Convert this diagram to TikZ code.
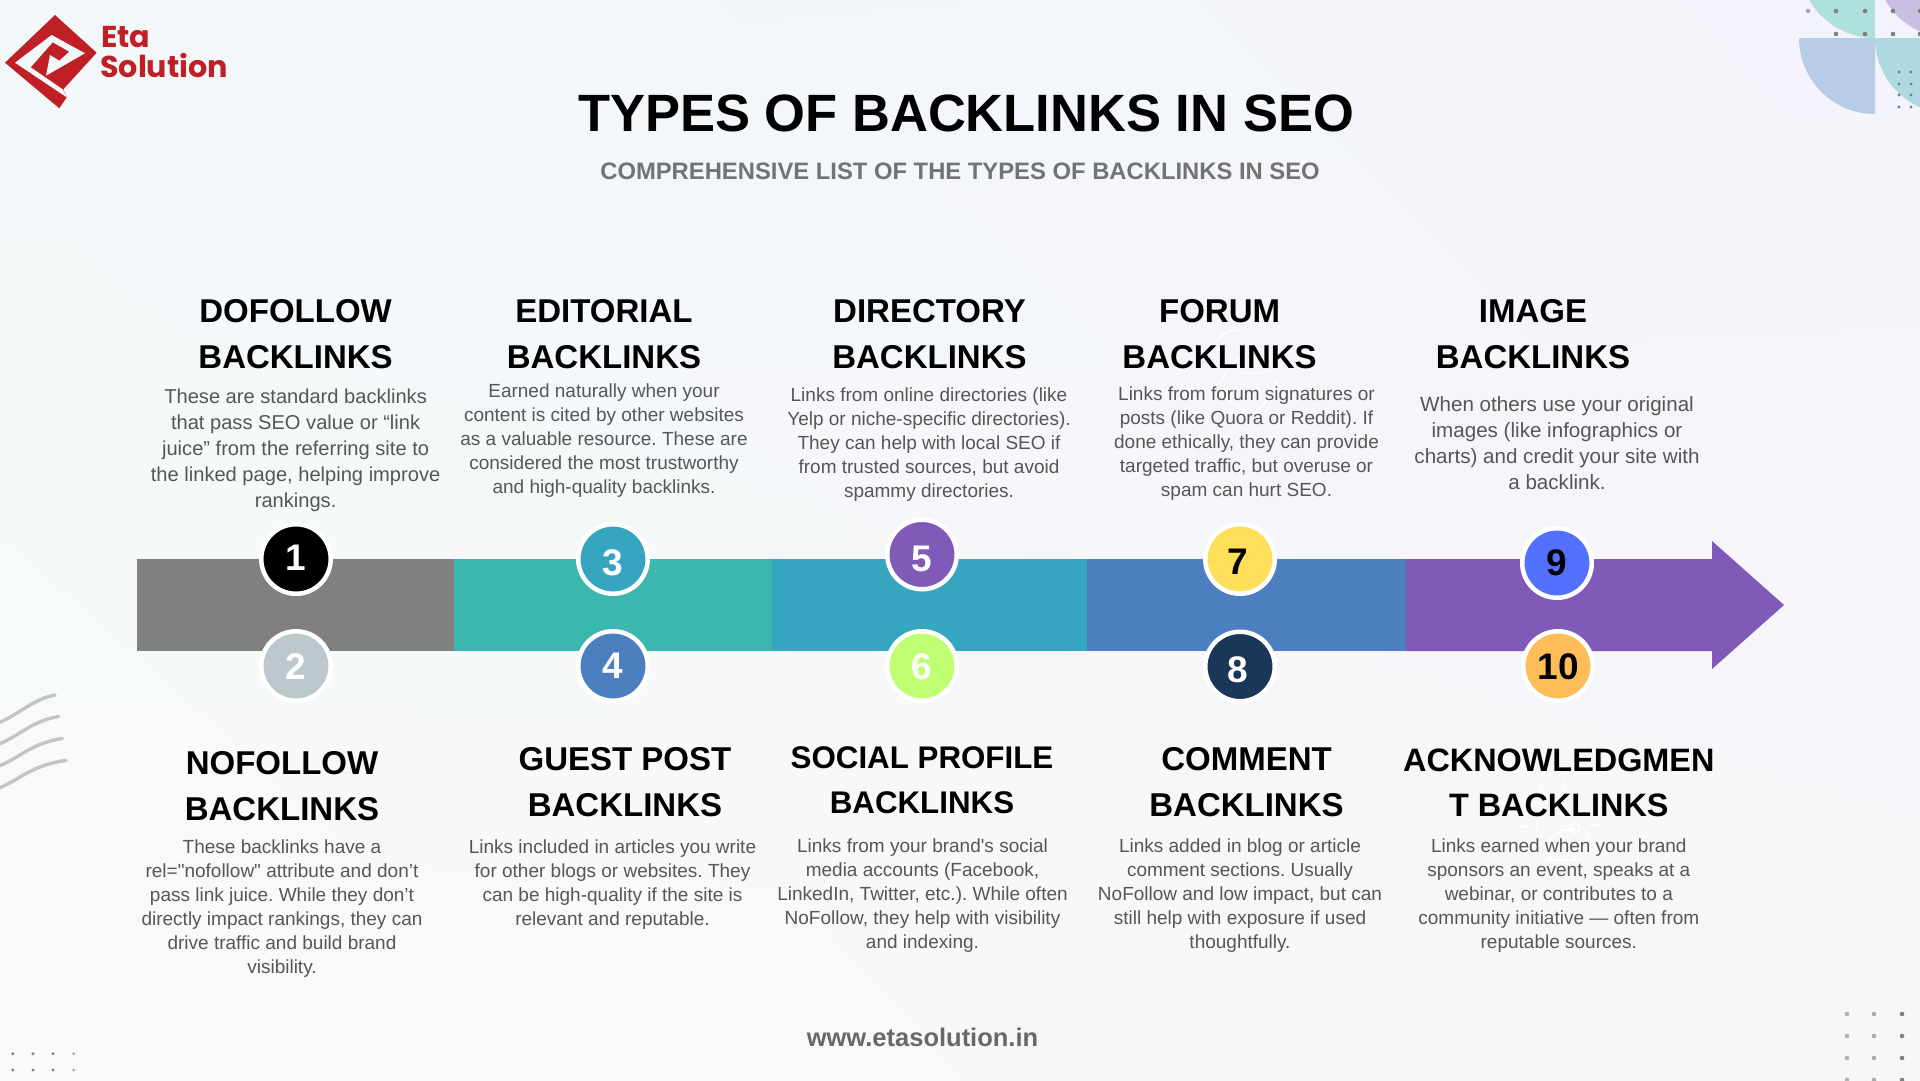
\documentclass[tikz,border=0pt]{standalone}
\usepackage{fontspec}
\usetikzlibrary{shadings}
\setmainfont{Liberation Sans}[Ligatures=TeXOff]
\newfontfamily\logofont{Poppins}
\AtBeginDocument{\frenchspacing}
\definecolor{logored}{HTML}{BF2026}
\definecolor{logobg}{HTML}{F2F8FA}
\definecolor{bodygray}{HTML}{565656}
\definecolor{subgray}{HTML}{737373}
\definecolor{barA}{HTML}{808080}
\definecolor{barB}{HTML}{3CB7B0}
\definecolor{barC}{HTML}{36A5C0}
\definecolor{barD}{HTML}{4C7FC0}
\definecolor{barE}{HTML}{7F5AB8}
\definecolor{discB}{HTML}{BCC8CC}
\definecolor{discF}{HTML}{C1FF72}
\definecolor{discG}{HTML}{FFDE59}
\definecolor{discH}{HTML}{1A3658}
\definecolor{discI}{HTML}{5271FF}
\definecolor{discJ}{HTML}{FFBD59}
\definecolor{quadA}{HTML}{AEE0DC}
\definecolor{quadB}{HTML}{C9BFE3}
\definecolor{quadC}{HTML}{B7CCE6}
\definecolor{quadD}{HTML}{AED9E3}
\definecolor{wavegray}{HTML}{C4C4C4}
\definecolor{dotgray}{HTML}{808080}
\definecolor{dotlight}{HTML}{ABABAB}
\definecolor{bgTR}{HTML}{F3F4FB}
\definecolor{bgBL}{HTML}{F9FBF8}
\definecolor{bgBR}{HTML}{F8F6F9}
\tikzset{
  heading/.style={align=center,inner sep=0pt,text=black,font=\fontsize{33}{46}\selectfont\bfseries},
  headingsmall/.style={align=center,inner sep=0pt,text=black,font=\fontsize{31.3}{44.6}\selectfont\bfseries},
  headingmid/.style={align=center,inner sep=0pt,text=black,font=\fontsize{32.4}{45}\selectfont\bfseries},
  bodyblock/.style={align=center,inner sep=0pt,text=bodygray,font=\fontsize{19}{24}\selectfont},
  bodylarge/.style={align=center,inner sep=0pt,text=bodygray,font=\fontsize{20.1}{26}\selectfont},
  bodywide/.style={align=center,inner sep=0pt,text=bodygray,font=\fontsize{20.6}{26}\selectfont},
  numdisc/.style={circle,inner sep=0pt,minimum size=69.5pt,line width=4.5pt,draw=white},
  numlabel/.style={inner sep=0pt,font=\fontsize{37}{37}\selectfont\bfseries},
  bigdot/.style={circle,fill=dotgray,inner sep=0pt,minimum size=4.6pt},
  smalldot/.style={circle,fill=dotgray,inner sep=0pt,minimum size=3.2pt},
  wave/.style={draw=wavegray,line width=3.4pt,line cap=round},
  doodle/.style={draw=white,line width=1.6pt,line cap=round},
}
\begin{document}
\begin{tikzpicture}[x=1pt,y=-1pt]
\useasboundingbox (0,0) rectangle (1920,1080);
\clip (0,0) rectangle (1920,1080);
\shade[upper left=logobg,upper right=bgTR,lower left=bgBL,lower right=bgBR] (0,0) rectangle (1920,1080);
% top-right quarter circles
\begin{scope}\clip (1799,-38) rectangle (1875,38); \fill[quadA] (1875,-38) circle[radius=76pt]; \end{scope}
\begin{scope}\clip (1875,-38) rectangle (1951,38); \fill[quadB] (1951,-38) circle[radius=76pt]; \end{scope}
\begin{scope}\clip (1799,38) rectangle (1875,114); \fill[quadC] (1875,38) circle[radius=76pt]; \end{scope}
\begin{scope}\clip (1875,38) rectangle (1951,114); \fill[quadD] (1951,38) circle[radius=76pt]; \end{scope}
% dots top right
\foreach \px in {1836,1865,1893,1920} {\node[bigdot] at (\px,11) {}; \node[bigdot] at (\px,34) {};}
\node[bigdot,fill=dotlight] at (1808,11) {};
\foreach \py in {72,84,95,107} {\node[smalldot] at (1899,\py) {}; \node[smalldot] at (1911,\py) {};}
% waves
\foreach \oy/\ex in {0/55,21.5/58.5,43.5/62.5,65.5/66} {
  \draw[wave] (-2,723+\oy) .. controls (20,714+\oy) and (33,699+\oy) .. (\ex,695+\oy);
}
% dots bottom
\foreach \py in {1053.7,1070} {
 \foreach \px in {12.7,33,53} {\node[smalldot] at (\px,\py) {};}
 \node[smalldot,fill=dotlight] at (73.7,\py) {};
}
\foreach \py in {1014,1036,1058,1080} {
 \node[bigdot,fill=dotlight!90!white] at (1847,\py) {};
 \node[bigdot,fill=dotlight] at (1874,\py) {};
 \node[bigdot] at (1902,\py) {};
}
% faint white doodles behind the text
\draw[doodle] (1217,340) .. controls (1222,334) and (1230,330) .. (1237,330);
\draw[doodle] (1220,383) .. controls (1226,370) and (1236,358) .. (1243,357);
\draw[doodle] (1243,373) .. controls (1252,374) and (1268,372) .. (1273,370);
\draw[doodle] (1277,380) .. controls (1272,392) and (1265,405) .. (1257,410);
\draw[doodle] (1222,395) .. controls (1228,400) and (1240,408) .. (1247,412);
\draw[doodle] (1540,785) -- (1547,803);
\draw[doodle] (1563,780) -- (1565,792);
\draw[doodle] (1518,825) -- (1528,827);
\draw[doodle] (1590,825) -- (1600,825);
\draw[doodle] (1537,822) -- (1536,833);
\draw[doodle] (1590,835) -- (1585,845);
\draw[doodle] (1548,860) -- (1575,860);
\draw[doodle] (1550,860) -- (1550,838) -- (1563,830) -- (1575,830);
\draw[doodle] (1575,860) -- (1575,845);
\draw[doodle] (1575,828) circle[radius=5pt];
% logo
\fill[logored] (55,15) -- (96.7,52.7) -- (63.3,89.3) -- (66.7,97.3) -- (59.3,108.3) -- (5,62.7) -- cycle;
\fill[logobg] (15,62.7) -- (51.7,35) -- (85,53.3) -- (46,75.7) -- (50,55) -- (59.3,60.7) -- (69.3,51.7) -- (52.7,42.3) -- (30.7,67.3) -- (62.7,89.3) -- (66.7,97.3) -- cycle;
\node[anchor=base west,inner sep=0pt,text=logored,font=\logofont\fontsize{30.2}{30}\selectfont\bfseries] (logoA) at (101,47) {Eta};
\node[anchor=base west,inner sep=0pt,text=logored,font=\logofont\fontsize{30.2}{30}\selectfont\bfseries] (logoB) at (100,77) {Solution};
% titles
\node[inner sep=0pt,font=\fontsize{52.5}{56}\selectfont\bfseries] (title) at (966,113) {TYPES OF BACKLINKS IN SEO};
\node[inner sep=0pt,text=subgray,font=\fontsize{23.8}{30}\selectfont\bfseries] (subtitle) at (960,171.5) {COMPREHENSIVE LIST OF THE TYPES OF BACKLINKS IN SEO};
\node[inner sep=0pt,text=subgray!90!black,font=\fontsize{25.5}{30}\selectfont\bfseries] (site) at (922.5,1037) {www.etasolution.in};
% arrow bar
\fill[barA] (137,559) rectangle (454,651);
\fill[barB] (454,559) rectangle (772,651);
\fill[barC] (772,559) rectangle (1087,651);
\fill[barD] (1087,559) rectangle (1406,651);
\fill[barE] (1406,559) -- (1712,559) -- (1712,541) -- (1784,605) -- (1712,669) -- (1712,651) -- (1406,651) -- cycle;
% discs
\node[numdisc,fill=black] (d1) at (296,559) {};
\node[numdisc,fill=discB] (d2) at (296,666) {};
\node[numdisc,fill=barC] (d3) at (613,559) {};
\node[numdisc,fill=barD] (d4) at (613,666) {};
\node[numdisc,fill=barE] (d5) at (922,554.5) {};
\node[numdisc,fill=discF] (d6) at (922,666) {};
\node[numdisc,fill=discG] (d7) at (1240,559) {};
\node[numdisc,fill=discH] (d8) at (1240,666.5) {};
\node[numdisc,fill=discI] (d9) at (1557,563) {};
\node[numdisc,fill=discJ] (d10) at (1558,666) {};
\node[numlabel,text=white] (n1) at (296,558) {1};
\node[numlabel,text=white] (n2) at (296,666.7) {2};
\node[numlabel,text=white] (n3) at (613,562.7) {3};
\node[numlabel,text=white] (n4) at (613,666) {4};
\node[numlabel,text=white] (n5) at (922,559) {5};
\node[numlabel,text=white] (n6) at (922,667) {6};
\node[numlabel,text=black] (n7) at (1238,562) {7};
\node[numlabel,text=white] (n8) at (1238,670) {8};
\node[numlabel,text=black] (n9) at (1557,563) {9};
\node[numlabel,text=black] (n10) at (1558,666.7) {10};
% headings
\node[heading] (h1) at (295.6,333.7) {DOFOLLOW\\BACKLINKS};
\node[heading] (h2) at (282,786.5) {NOFOLLOW\\BACKLINKS};
\node[heading] (h3) at (604,333.7) {EDITORIAL\\BACKLINKS};
\node[heading] (h4) at (625,782) {GUEST POST\\BACKLINKS};
\node[heading] (h5) at (929.5,333.7) {DIRECTORY\\BACKLINKS};
\node[headingsmall] (h6) at (922,780.5) {SOCIAL PROFILE\\BACKLINKS};
\node[heading] (h7) at (1219.6,333.7) {FORUM\\BACKLINKS};
\node[heading] (h8) at (1246.5,782) {COMMENT\\BACKLINKS};
\node[heading] (h9) at (1533,333.7) {IMAGE\\BACKLINKS};
\node[headingmid] (h10) at (1558.8,783) {ACKNOWLEDGMEN\\T BACKLINKS};
% bodies
\node[bodylarge] (b1) at (295.6,449.8) {These are standard backlinks\\that pass SEO value or “link\\juice” from the referring site to\\the linked page, helping improve\\rankings.};
\node[bodyblock] (b2) at (282,908.5) {These backlinks have a\\rel="nofollow" attribute and don’t\\pass link juice. While they don’t\\directly impact rankings, they can\\drive traffic and build brand\\visibility.};
\node[bodyblock] (b3) at (604,440.4) {Earned naturally when your\\content is cited by other websites\\as a valuable resource. These are\\considered the most trustworthy\\and high-quality backlinks.};
\node[bodyblock] (b4) at (612.5,884.5) {Links included in articles you write\\for other blogs or websites. They\\can be high-quality if the site is\\relevant and reputable.};
\node[bodyblock] (b5) at (929,444.5) {Links from online directories (like\\Yelp or niche-specific directories).\\They can help with local SEO if\\from trusted sources, but avoid\\spammy directories.};
\node[bodyblock] (b6) at (922.5,895.5) {Links from your brand's social\\media accounts (Facebook,\\LinkedIn, Twitter, etc.). While often\\NoFollow, they help with visibility\\and indexing.};
\node[bodyblock] (b7) at (1246.5,444) {Links from forum signatures or\\posts (like Quora or Reddit). If\\done ethically, they can provide\\targeted traffic, but overuse or\\spam can hurt SEO.};
\node[bodyblock] (b8) at (1240,896) {Links added in blog or article\\comment sections. Usually\\NoFollow and low impact, but can\\still help with exposure if used\\thoughtfully.};
\node[bodywide] (b9) at (1557,443) {When others use your original\\images (like infographics or\\charts) and credit your site with\\a backlink.};
\node[bodyblock] (b10) at (1558.8,896) {Links earned when your brand\\sponsors an event, speaks at a\\webinar, or contributes to a\\community initiative — often from\\reputable sources.};
\end{tikzpicture}
\end{document}
